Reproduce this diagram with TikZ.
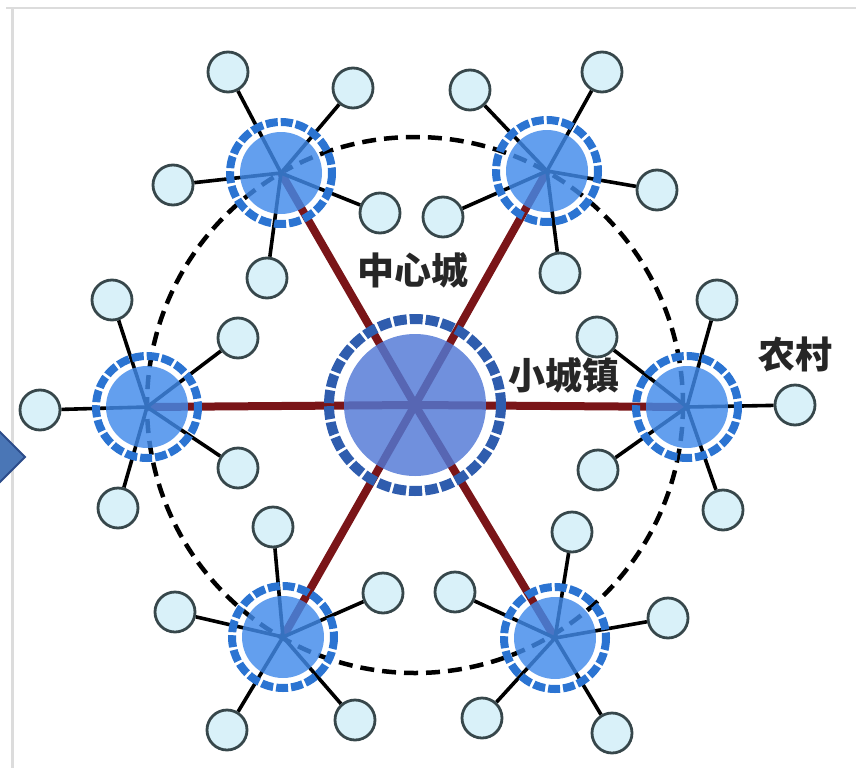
\documentclass[tikz,border=0pt]{standalone}
\usepackage{fontspec}
\newfontfamily\cjk{Noto Sans CJK SC}
\pgfdeclarelayer{bg}
\pgfsetlayers{bg,main}

\definecolor{hubfillc}{HTML}{5078D6}
\definecolor{hubringc}{HTML}{2F5DAE}
\definecolor{townfillc}{HTML}{418AEA}
\definecolor{townringc}{HTML}{2B74D2}
\definecolor{ruralfillc}{HTML}{D9F1F9}
\definecolor{ruraledgec}{HTML}{37474B}
\definecolor{spokec}{HTML}{7A1518}
\definecolor{arrowfillc}{HTML}{4A76B6}
\definecolor{arrowedgec}{HTML}{2C4C8A}
\definecolor{framec}{HTML}{DCDCDC}

\tikzset{
  hubnode/.style={circle, inner sep=0pt, minimum size=142pt, fill=hubfillc, fill opacity=0.82},
  town/.style={circle, inner sep=0pt, minimum size=82pt, fill=townfillc, fill opacity=0.82},
  rural/.style={circle, inner sep=0pt, minimum size=40pt, fill=ruralfillc, draw=ruraledgec, line width=2.8pt},
  hubring/.style={draw=hubringc, line width=10pt, dash pattern=on 13pt off 3pt},
  townring/.style={draw=townringc, line width=8pt, dash pattern=on 12pt off 3pt},
  spokeline/.style={draw=spokec, line width=8pt},
  linkline/.style={draw=black, line width=3.6pt},
  orbit/.style={draw=black, line width=4.5pt, dash pattern=on 14pt off 8pt},
  lbl/.style={font=\cjk\bfseries\fontsize{37}{37}\selectfont, inner sep=0pt, text=black!85},
}

\begin{document}
\begin{tikzpicture}[x=1pt,y=-1pt]
\useasboundingbox (0,0) rectangle (856,768);

% Frame of the panel
\draw[framec, line width=2.5pt] (6,8) -- (856,8);
\draw[framec, line width=3pt] (12,8) -- (12,768);

% Arrow at the left edge
\filldraw[fill=arrowfillc, draw=arrowedgec, line width=2pt] (-4,428) -- (25,457) -- (-4,486) -- cycle;

% Central city
\node[hubnode] (hub) at (415,405) {};

% Small towns
\node[town] (t1) at (281,173) {};
\node[town] (t2) at (547,171) {};
\node[town] (t3) at (147,407) {};
\node[town] (t4) at (687,407) {};
\node[town] (t5) at (283,637) {};
\node[town] (t6) at (555,638) {};

% Dashed rings
\draw[hubring] (hub.center) circle [radius=86];
\foreach \t in {t1,t2,t3,t4,t5,t6}
  \draw[townring] (\t.center) circle [radius=51];

\begin{pgfonlayer}{bg}
% Orbit through the towns
\draw[orbit] (hub.center) circle [radius=268];
% Roads from the city to the towns
\foreach \t in {t1,t2,t3,t4,t5,t6}
  \draw[spokeline] (hub.center) -- (\t.center);
\end{pgfonlayer}

% Villages round each town
\foreach \t/\pts in {
    t1/{(228,72),(353,88),(380,213),(267,278),(173,185)},
    t2/{(470,90),(602,72),(657,190),(560,273),(443,217)},
    t3/{(112,300),(238,338),(40,410),(238,468),(118,508)},
    t4/{(717,300),(795,405),(723,510),(598,470),(597,337)},
    t5/{(273,527),(383,593),(175,612),(227,730),(355,720)},
    t6/{(572,532),(668,618),(455,592),(482,718),(612,733)}}
  \foreach \p [count=\i] in \pts {
    \node[rural] (\t v\i) at \p {};
    \begin{pgfonlayer}{bg}
      \draw[linkline] (\t.center) -- (\t v\i);
    \end{pgfonlayer}
  }

% Labels
\node[lbl] (lcity) at (413,270) {中心城};
\node[lbl] (ltown) at (564,375) {小城镇};
\node[lbl] (lvillage) at (795,354) {农村};
\end{tikzpicture}
\end{document}
